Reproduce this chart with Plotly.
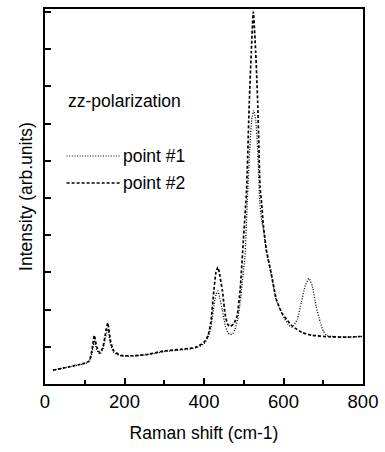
import plotly.graph_objects as go

# point #2 (dashed)
x2 = [20, 60, 100, 111, 118, 124, 130, 138, 146, 152, 158, 165, 173, 190, 220, 260, 300, 340, 380, 400,
      410, 417, 425, 430, 435, 440, 446, 454, 460, 466, 475, 483, 491, 499, 507, 514, 519, 524, 530, 535,
      538, 541, 545, 549, 557, 569, 582, 598, 623, 648, 672, 713, 760, 800]
y2 = [0.37, 0.46, 0.56, 0.62, 0.9, 1.31, 1.0, 0.84, 1.0, 1.35, 1.64, 1.15, 0.89, 0.77, 0.76, 0.8, 0.89, 0.93, 0.99, 1.12,
      1.3, 1.64, 2.53, 3.0, 3.14, 2.9, 2.53, 1.82, 1.6, 1.55, 1.62, 1.82, 2.53, 3.87, 5.2, 7.6, 8.93, 10.0, 8.93, 7.6,
      6.4, 5.3, 4.85, 4.3, 3.6, 2.98, 2.27, 1.87, 1.55, 1.38, 1.31, 1.27, 1.26, 1.28]

# point #1 (dotted)
x1 = [20, 60, 100, 111, 118, 124, 130, 138, 146, 152, 158, 165, 173, 190, 220, 260, 300, 340, 380, 400,
      410, 417, 425, 430, 435, 440, 446, 454, 460, 466, 472, 478, 485, 491, 497, 503, 509, 515, 520, 525,
      530, 535, 540, 545, 549, 557, 569, 582, 598, 612, 622, 635, 645, 655, 664, 672, 682, 693, 700, 710,
      760, 800]
y1 = [0.37, 0.46, 0.55, 0.6, 0.82, 1.17, 0.92, 0.8, 0.95, 1.25, 1.48, 1.05, 0.85, 0.76, 0.75, 0.79, 0.87, 0.91, 0.97, 1.08,
      1.25, 1.5, 2.1, 2.4, 2.5, 2.3, 2.0, 1.55, 1.38, 1.33, 1.35, 1.47, 1.75, 2.18, 2.8, 3.42, 4.93, 6.3, 7.1, 7.35,
      7.1, 6.3, 4.93, 4.4, 4.2, 3.55, 2.95, 2.25, 1.85, 1.6, 1.52, 1.75, 2.2, 2.65, 2.84, 2.65, 2.1, 1.64, 1.42, 1.3,
      1.26, 1.28]

x_ticks = [0, 200, 400, 600, 800]
x_minor = [100, 300, 500, 700]
y_ticks = list(range(0, 11))

FONT = "Liberation Sans, Arial, sans-serif"

fig = go.Figure()
fig.add_trace(go.Scatter(x=x1, y=y1, mode="lines",
                         line=dict(color="black", width=1.3, dash="1px,1.6px", shape="spline", smoothing=0.5),
                         showlegend=False))
fig.add_trace(go.Scatter(x=x2, y=y2, mode="lines",
                         line=dict(color="black", width=1.7, dash="3px,2px", shape="spline", smoothing=0.5),
                         showlegend=False))

# legend-like decorations
fig.add_shape(type="line", xref="paper", yref="paper", x0=0.068, x1=0.238, y0=0.608, y1=0.608,
              line=dict(color="black", width=1.2, dash="1px,1.6px"))
fig.add_shape(type="line", xref="paper", yref="paper", x0=0.068, x1=0.238, y0=0.536, y1=0.536,
              line=dict(color="black", width=1.3, dash="3px,2px"))
fig.add_annotation(text="zz-polarization", xref="paper", yref="paper", x=0.066, y=0.756, xanchor="left", yanchor="middle",
                   showarrow=False, font=dict(family=FONT, size=17.5, color="black"))
fig.add_annotation(text="point #1", xref="paper", yref="paper", x=0.238, y=0.608, xanchor="left", yanchor="middle",
                   showarrow=False, font=dict(family=FONT, size=17.5, color="black"))
fig.add_annotation(text="point #2", xref="paper", yref="paper", x=0.238, y=0.536, xanchor="left", yanchor="middle",
                   showarrow=False, font=dict(family=FONT, size=17.5, color="black"))

fig.update_layout(
    width=385, height=452,
    margin=dict(l=45, r=17, t=7, b=68),
    paper_bgcolor="white", plot_bgcolor="white",
    font=dict(family=FONT, size=17, color="black"),
    xaxis=dict(range=[0, 800], tickvals=x_ticks, ticktext=[str(v) for v in x_ticks],
               ticks="inside", ticklen=6, tickwidth=1.5, tickcolor="black",
               minor=dict(tickvals=x_minor, ticks="inside", ticklen=4, tickcolor="black"),
               showline=True, linecolor="black", linewidth=2, mirror=True, showgrid=False, zeroline=False,
               title=dict(text="Raman shift (cm-1)", font=dict(family=FONT, size=17.5), standoff=16),
               tickfont=dict(family=FONT, size=18.5)),
    yaxis=dict(range=[0, 10.08], tickvals=y_ticks, showticklabels=False,
               ticks="inside", ticklen=6, tickwidth=1.5, tickcolor="black",
               showline=True, linecolor="black", linewidth=2, mirror=True, showgrid=False, zeroline=False,
               title=dict(text="Intensity (arb.units)", font=dict(family=FONT, size=17.5), standoff=6)),
)

fig.write_html("out.html")
